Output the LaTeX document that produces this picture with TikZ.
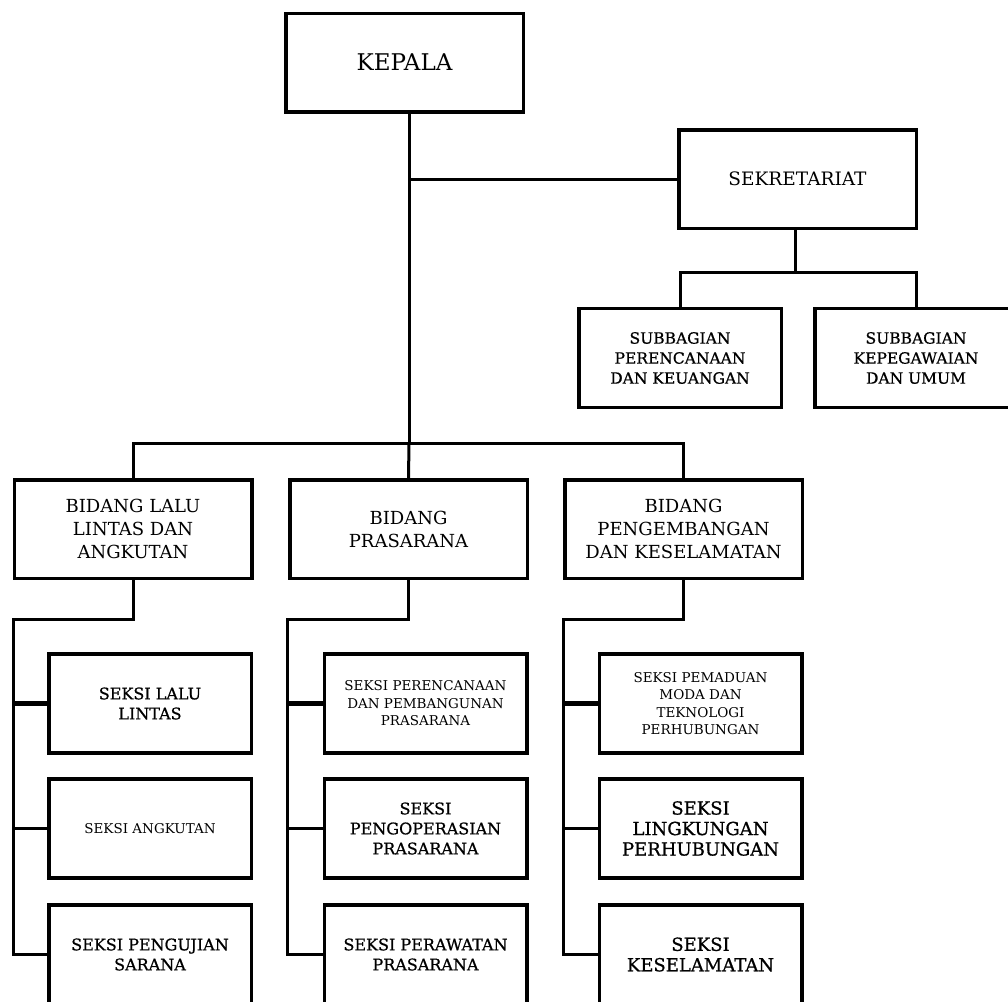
\documentclass[tikz,border=0pt]{standalone}
\usepackage{fontspec}
\setmainfont{DejaVu Serif}
\newfontfamily\heavyserif[FakeBold=0.8]{DejaVu Serif}

\begin{document}
\begin{tikzpicture}[x=1pt,y=-1pt,
  box/.style={draw, line width=3.5pt, align=center, inner sep=0pt},
  bigbox/.style={box, minimum width=237.5pt, minimum height=98.5pt},
  smallbox/.style={box, minimum width=202.5pt, minimum height=99pt},
  link/.style={line width=3pt},
  firstlink/.style={line width=4.5pt},
  headfont/.style={font=\fontsize{23}{27}\selectfont},
  secfont/.style={font=\fontsize{18.5}{23}\selectfont},
  midfont/.style={font=\fontsize{18}{23}\selectfont},
  subfont/.style={font=\heavyserif\fontsize{15.5}{20}\selectfont},
  thinfont/.style={font=\fontsize{13.5}{17.5}\selectfont},
  seksifont/.style={font=\heavyserif\fontsize{16}{20}\selectfont},
  wideseksifont/.style={font=\heavyserif\fontsize{18}{20.5}\selectfont},
]
\useasboundingbox (0,0) rectangle (1008,1001);
\clip (0,0) rectangle (1008,1001);

% top level
\node[bigbox, headfont] (kepala) at (404.5,62.5) {KEPALA};
\node[bigbox, secfont] (sekr) at (797.5,179) {SEKRETARIAT};

% secretariat sub-units
\node[smallbox, subfont] (sub1) at (680,358) {SUBBAGIAN\\PERENCANAAN\\DAN KEUANGAN};
\node[smallbox, subfont] (sub2) at (916,358) {SUBBAGIAN\\KEPEGAWAIAN\\DAN UMUM};

% departments
\node[bigbox, midfont] (b1) at (133,529) {BIDANG LALU\\LINTAS DAN\\ANGKUTAN};
\node[bigbox, midfont] (b2) at (408.5,529) {BIDANG\\PRASARANA};
\node[bigbox, midfont] (b3) at (683.5,529) {BIDANG\\PENGEMBANGAN\\DAN KESELAMATAN};

% sections, column 1
\node[smallbox, seksifont] (s11) at (150,703.5) {SEKSI LALU\\LINTAS};
\node[smallbox, thinfont] (s12) at (150,828.5) {SEKSI ANGKUTAN};
\node[smallbox, seksifont] (s13) at (150,954.5) {SEKSI PENGUJIAN\\SARANA};

% sections, column 2
\node[smallbox, thinfont] (s21) at (425.5,703.5) {SEKSI PERENCANAAN\\DAN PEMBANGUNAN\\PRASARANA};
\node[smallbox, seksifont] (s22) at (425.5,828.5) {SEKSI\\PENGOPERASIAN\\PRASARANA};
\node[smallbox, seksifont] (s23) at (425.5,954.5) {SEKSI PERAWATAN\\PRASARANA};

% sections, column 3
\node[smallbox, thinfont] (s31) at (700.5,703.5) {SEKSI PEMADUAN\\MODA DAN\\TEKNOLOGI\\PERHUBUNGAN};
\node[smallbox, wideseksifont] (s32) at (700.5,828.5) {SEKSI\\LINGKUNGAN\\PERHUBUNGAN};
\node[smallbox, wideseksifont] (s33) at (700.5,954.5) {SEKSI\\KESELAMATAN};

% junction points
\coordinate (j0) at (409,179);
\coordinate (j1) at (409,443);
\coordinate (sbus) at (795,272);
\coordinate (c1) at (13,619);
\coordinate (c2) at (287,619);
\coordinate (c3) at (563,619);

% main spine and secretariat
\draw[link] (kepala.south -| j0) -- (j1);
\draw[link] (j0) -- (sekr.west);
\draw[link] (sekr.south -| sbus) -- (sbus);
\draw[link] (sub1.north) -- (sub1.north |- sbus) -- (sub2.north |- sbus) -- (sub2.north);

% department bus
\draw[link] (b1.north) -- (b1.north |- j1) -- (b3.north |- j1) -- (b3.north);
\draw[link] (j1) -- (b2.north);

% department to section links
\draw[link] (b1.south) |- (c1) -- (c1 |- s13.west) -- (s13.west);
\draw[firstlink] (c1 |- s11.west) -- (s11.west);
\draw[link] (c1 |- s12.west) -- (s12.west);

\draw[link] (b2.south) |- (c2) -- (c2 |- s23.west) -- (s23.west);
\draw[firstlink] (c2 |- s21.west) -- (s21.west);
\draw[link] (c2 |- s22.west) -- (s22.west);

\draw[link] (b3.south) |- (c3) -- (c3 |- s33.west) -- (s33.west);
\draw[firstlink] (c3 |- s31.west) -- (s31.west);
\draw[link] (c3 |- s32.west) -- (s32.west);
\end{tikzpicture}
\end{document}
